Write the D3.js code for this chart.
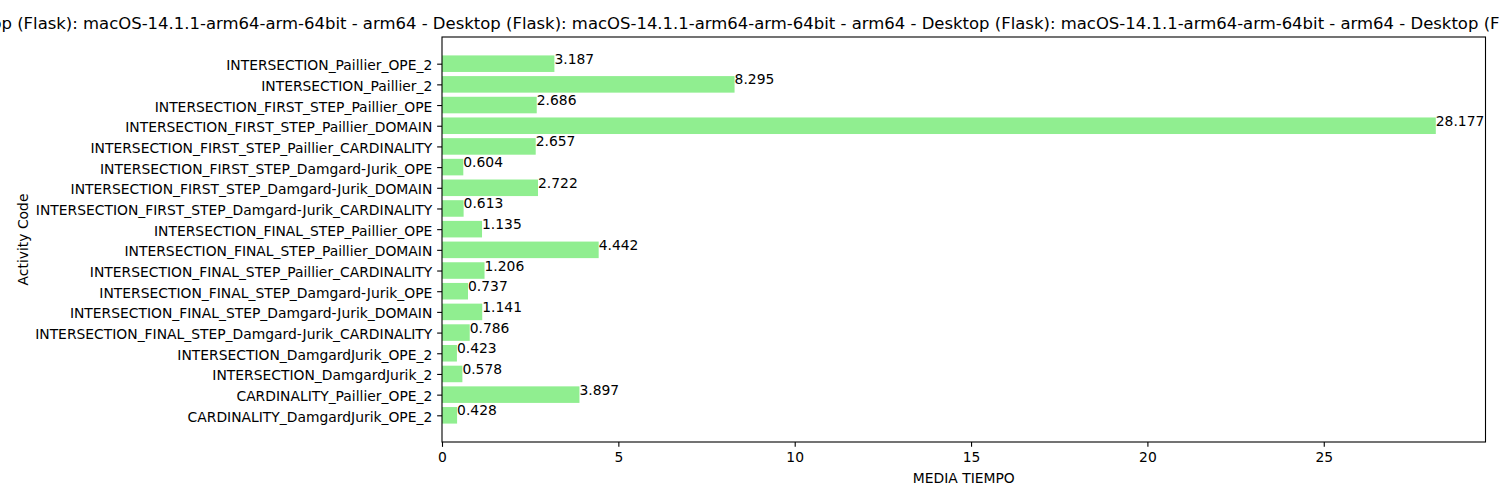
<!DOCTYPE html>
<html>
<head>
<meta charset="utf-8">
<script src="https://cdn.jsdelivr.net/npm/d3@7"></script>
<style>
  html, body { margin: 0; padding: 0; background: #fff; }
  svg { display: block; font-family: "DejaVu Sans", sans-serif; }
</style>
</head>
<body>
<svg id="chart" width="1500" height="500"></svg>
<script>
// ---- data (top to bottom as displayed) ----
const categories = [
  "INTERSECTION_Paillier_OPE_2",
  "INTERSECTION_Paillier_2",
  "INTERSECTION_FIRST_STEP_Paillier_OPE",
  "INTERSECTION_FIRST_STEP_Paillier_DOMAIN",
  "INTERSECTION_FIRST_STEP_Paillier_CARDINALITY",
  "INTERSECTION_FIRST_STEP_Damgard-Jurik_OPE",
  "INTERSECTION_FIRST_STEP_Damgard-Jurik_DOMAIN",
  "INTERSECTION_FIRST_STEP_Damgard-Jurik_CARDINALITY",
  "INTERSECTION_FINAL_STEP_Paillier_OPE",
  "INTERSECTION_FINAL_STEP_Paillier_DOMAIN",
  "INTERSECTION_FINAL_STEP_Paillier_CARDINALITY",
  "INTERSECTION_FINAL_STEP_Damgard-Jurik_OPE",
  "INTERSECTION_FINAL_STEP_Damgard-Jurik_DOMAIN",
  "INTERSECTION_FINAL_STEP_Damgard-Jurik_CARDINALITY",
  "INTERSECTION_DamgardJurik_OPE_2",
  "INTERSECTION_DamgardJurik_2",
  "CARDINALITY_Paillier_OPE_2",
  "CARDINALITY_DamgardJurik_OPE_2"
];
const mediaTiempo = [
  3.187, 8.295, 2.686, 28.177, 2.657, 0.604, 2.722, 0.613, 1.135,
  4.442, 1.206, 0.737, 1.141, 0.786, 0.423, 0.578, 3.897, 0.428
];
const xTickValues = [0, 5, 10, 15, 20, 25];
const titlePart = "Desktop (Flask): macOS-14.1.1-arm64-arm-64bit - arm64 - ";
const xLabel = "MEDIA TIEMPO";
const yLabel = "Activity Code";

// ---- layout ----
const W = 1500, H = 500;
const L = 442, R = 1485.5, T = 37, B = 442;
const fs = 13.89, titleFs = 16.67;
const tickLen = 4.86, tickPad = 4.86;
const barColor = "#90ee90";

const svg = d3.select("#chart");
const n = categories.length;

const xMax = d3.max(mediaTiempo) * 1.05;
const x = d3.scaleLinear().domain([0, xMax]).range([L, R]);
// position index: bottom bar = 0, top = n-1 (matplotlib barh)
const pad = (n - 1 + 0.8) * 0.05;
const y = d3.scaleLinear().domain([-0.4 - pad, n - 1 + 0.4 + pad]).range([B, T]);
const posOf = i => n - 1 - i;
const barH = Math.abs(y(0.8) - y(0));

// bars
svg.append("g").selectAll("rect").data(mediaTiempo).join("rect")
  .attr("x", x(0))
  .attr("y", (d, i) => y(posOf(i) + 0.4))
  .attr("width", d => x(d) - x(0))
  .attr("height", barH)
  .attr("fill", barColor);

// value labels (baseline at bar centre, left aligned at value)
svg.append("g").selectAll("text").data(mediaTiempo).join("text")
  .attr("x", d => x(d))
  .attr("y", (d, i) => y(posOf(i)))
  .attr("font-size", fs)
  .attr("fill", "#000")
  .text(d => d3.format(".3f")(d));

// x axis
const xAxis = d3.axisBottom(x).tickValues(xTickValues).tickFormat(d3.format("d"))
  .tickSize(tickLen).tickPadding(tickPad).tickSizeOuter(0);
const gx = svg.append("g").attr("transform", `translate(0,${B})`).call(xAxis);
gx.select(".domain").remove();
gx.selectAll("line").attr("stroke", "#000").attr("stroke-width", 1.1);
gx.selectAll("text").attr("font-size", fs).attr("font-family", "DejaVu Sans").attr("fill", "#000");

// y axis
const yAxis = d3.axisLeft(y).tickValues(d3.range(n)).tickFormat(p => categories[n - 1 - p])
  .tickSize(tickLen).tickPadding(tickPad).tickSizeOuter(0);
const gy = svg.append("g").attr("transform", `translate(${L},0)`).call(yAxis);
gy.select(".domain").remove();
gy.selectAll("line").attr("stroke", "#000").attr("stroke-width", 1.1);
gy.selectAll("text").attr("font-size", fs).attr("font-family", "DejaVu Sans")
  .attr("fill", "#000").attr("dy", "0.43em");

// spines
svg.append("rect").attr("x", L).attr("y", T).attr("width", R - L).attr("height", B - T)
  .attr("fill", "none").attr("stroke", "#000").attr("stroke-width", 1.1);

// axis labels
svg.append("text").attr("x", (L + R) / 2).attr("y", 482.7)
  .attr("text-anchor", "middle").attr("font-size", fs).attr("fill", "#000").text(xLabel);
svg.append("text").attr("transform", `translate(28.4,${(T + B) / 2}) rotate(-90)`)
  .attr("text-anchor", "middle").attr("font-size", fs).attr("fill", "#000").text(yLabel);

// title: long repeated text, overflowing the figure
const probe = svg.append("text").attr("font-size", titleFs)
  .style("white-space", "pre").text(titlePart);
const P0 = probe.node().getComputedTextLength();
probe.remove();
const targetPeriod = 489;
const tFs = titleFs * targetPeriod / P0;
svg.append("text")
  .attr("x", 1411 - 3 * targetPeriod)
  .attr("y", 29)
  .attr("font-size", tFs)
  .attr("fill", "#000")
  .style("white-space", "pre")
  .text(titlePart.repeat(4) + "Desktop (Flask)");
</script>
</body>
</html>
